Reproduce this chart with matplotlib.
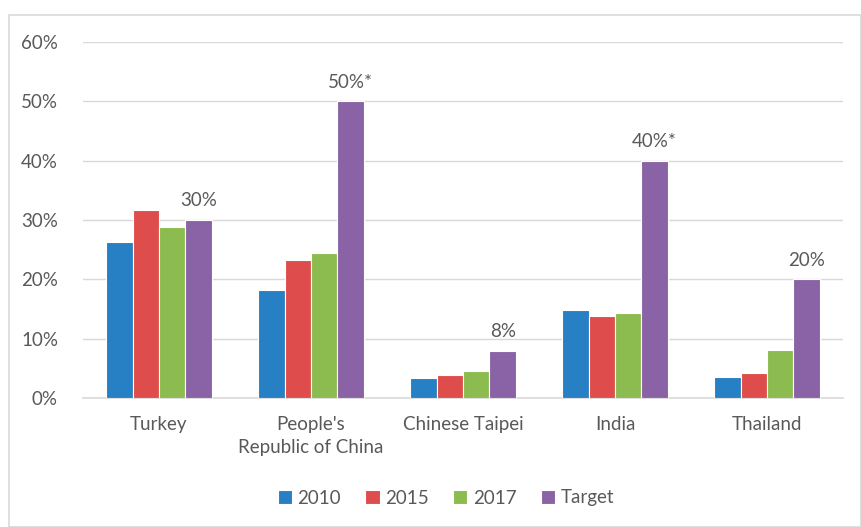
import numpy as np
import matplotlib.pyplot as plt
from matplotlib.patches import Rectangle

# data
countries = ["Turkey", "People's\nRepublic of China", "Chinese Taipei", "India", "Thailand"]
series = ["2010", "2015", "2017", "Target"]
v2010 = [26.3, 18.2, 3.4, 14.8, 3.5]
v2015 = [31.7, 23.3, 3.9, 13.8, 4.2]
v2017 = [28.9, 24.4, 4.6, 14.3, 8.1]
target = [30, 50, 8, 40, 20]
target_labels = ["30%", "50%*", "8%", "40%*", "20%"]
colors = ["#2780C3", "#DE4D4B", "#8CBB4F", "#8A63A6"]

plt.rcParams['font.family'] = ['Lato', 'DejaVu Sans']
txt = "#595959"
fs = 13.5

fig = plt.figure(figsize=(8.62, 5.27), dpi=100)
fig.patches.append(Rectangle((9/862, 0), 852/862, 1-15/527, transform=fig.transFigure,
                             fill=False, edgecolor="#D9D9D9", lw=1.2))
ax = fig.add_axes([83/862, 1-398/527, 760/862, 356/527])

x = np.arange(len(countries))
w = 0.174
for i, (vals, c, name) in enumerate(zip([v2010, v2015, v2017, target], colors, series)):
    ax.bar(x + (i-1.5)*w, vals, w, color=c, edgecolor="white", linewidth=0.8, label=name, zorder=3)

for xi, v, lab in zip(x, target, target_labels):
    ax.text(xi + 1.5*w, v + 1.8, lab, ha="center", va="bottom", fontsize=fs, color=txt)

ax.set_xlim(-0.5, 4.5)
ax.set_ylim(0, 60)
ax.set_yticks(range(0, 61, 10))
ax.set_yticklabels([f"{t}%" for t in range(0, 61, 10)])
ax.set_xticks(x)
ax.set_xticklabels(countries, linespacing=1.45)
ax.tick_params(axis="both", length=0, colors=txt, labelsize=fs)
ax.tick_params(axis="y", pad=18)
ax.tick_params(axis="x", pad=13)
ax.grid(axis="y", color="#D9D9D9", lw=1, zorder=0)
for s in ["top", "right", "left"]:
    ax.spines[s].set_visible(False)
ax.spines["bottom"].set_color("#D9D9D9")
ax.spines["bottom"].set_linewidth(1.2)

leg = fig.legend(loc="center", bbox_to_anchor=(446/862, 1-498/527), ncol=4, frameon=False,
                 fontsize=fs, handlelength=0.75, handleheight=0.75, handletextpad=0.3,
                 columnspacing=1.3)
for t in leg.get_texts():
    t.set_color(txt)

fig.savefig("out.png", dpi=100)
